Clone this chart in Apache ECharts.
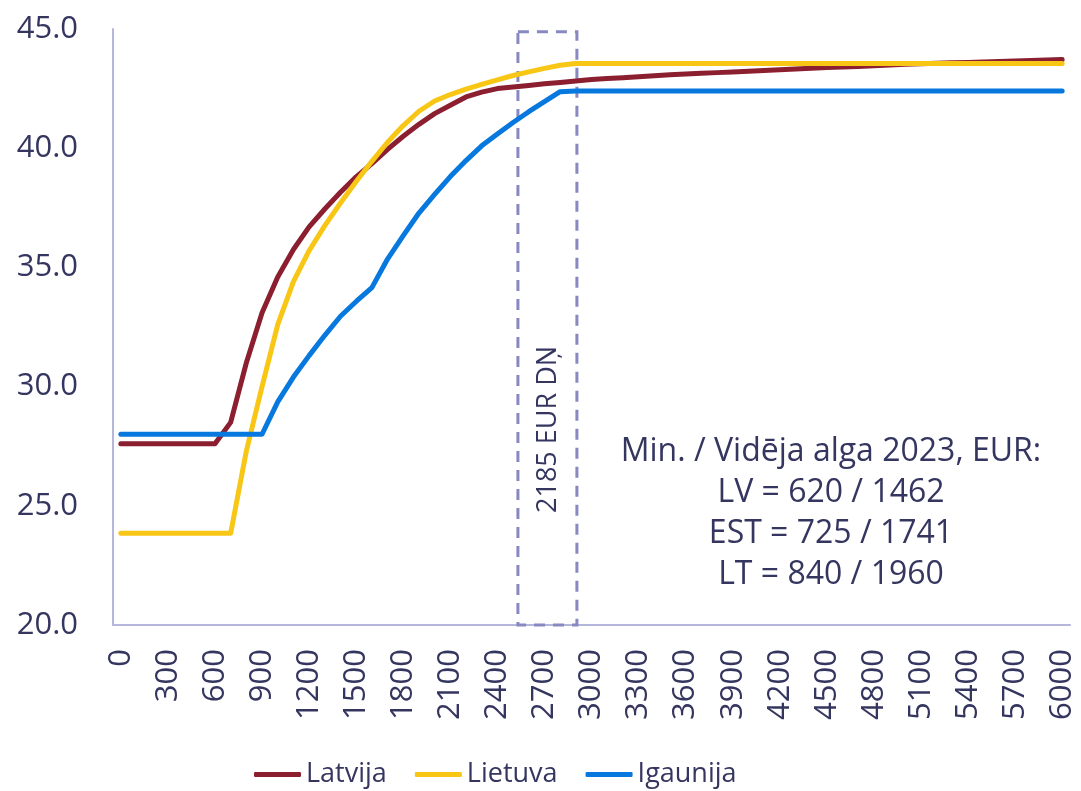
<!DOCTYPE html>
<html>
<head>
<meta charset="utf-8">
<script src="https://cdn.jsdelivr.net/npm/echarts@6/dist/echarts.min.js"></script>
<style>
  html, body { margin: 0; padding: 0; background: #ffffff; }
  #chart { width: 1081px; height: 791px; }
</style>
</head>
<body>
<div id="chart"></div>
<script>
// x kategorijas (EUR, solis 100)
const categories = [
  '0','100','200','300','400','500','600','700','800','900',
  '1000','1100','1200','1300','1400','1500','1600','1700','1800','1900',
  '2000','2100','2200','2300','2400','2500','2600','2700','2800','2900',
  '3000','3100','3200','3300','3400','3500','3600','3700','3800','3900',
  '4000','4100','4200','4300','4400','4500','4600','4700','4800','4900',
  '5000','5100','5200','5300','5400','5500','5600','5700','5800','5900',
  '6000'
];

const latvija = [
  27.6, 27.6, 27.6, 27.6, 27.6, 27.6, 27.6, 28.5, 31.0, 33.1,
  34.6, 35.75, 36.7, 37.45, 38.15, 38.8, 39.35, 39.95, 40.5, 41.0,
  41.45, 41.8, 42.15, 42.35, 42.5, 42.57, 42.63, 42.7, 42.76, 42.82,
  42.88, 42.92, 42.96, 43.0, 43.04, 43.08, 43.11, 43.14, 43.17, 43.2,
  43.23, 43.26, 43.29, 43.32, 43.35, 43.38, 43.41, 43.43, 43.46, 43.49,
  43.52, 43.54, 43.56, 43.58, 43.6, 43.62, 43.64, 43.66, 43.68, 43.7,
  43.72
];

const lietuva = [
  23.85, 23.85, 23.85, 23.85, 23.85, 23.85, 23.85, 23.85, 27.3, 30.0,
  32.6, 34.4, 35.7, 36.75, 37.7, 38.6, 39.45, 40.25, 40.95, 41.55,
  41.98, 42.25, 42.48, 42.68, 42.87, 43.05, 43.2, 43.35, 43.48, 43.55,
  43.55, 43.55, 43.55, 43.55, 43.55, 43.55, 43.55, 43.55, 43.55, 43.55,
  43.55, 43.55, 43.55, 43.55, 43.55, 43.55, 43.55, 43.55, 43.55, 43.55,
  43.55, 43.55, 43.55, 43.55, 43.55, 43.55, 43.55, 43.55, 43.55, 43.55,
  43.55
];

const igaunija = [
  28.0, 28.0, 28.0, 28.0, 28.0, 28.0, 28.0, 28.0, 28.0, 28.0,
  29.36, 30.4, 31.3, 32.15, 32.95, 33.57, 34.15, 35.35, 36.33, 37.28,
  38.06, 38.81, 39.48, 40.1, 40.6, 41.08, 41.53, 41.95, 42.37, 42.4,
  42.4, 42.4, 42.4, 42.4, 42.4, 42.4, 42.4, 42.4, 42.4, 42.4,
  42.4, 42.4, 42.4, 42.4, 42.4, 42.4, 42.4, 42.4, 42.4, 42.4,
  42.4, 42.4, 42.4, 42.4, 42.4, 42.4, 42.4, 42.4, 42.4, 42.4,
  42.4
];

const seriesNames = ['Latvija', 'Lietuva', 'Igaunija'];
const seriesColors = ['#8B1F30', '#F8C614', '#0778DE'];

// iezīmētais apgabals (kategoriju indeksos) un teksti
const boxFrom = 25.31;
const boxTo = 29.07;
const boxTop = 44.88;
const boxBottom = 19.8;
const boxLabel = '2185 EUR DŅ';
const noteLines = ['Min. / Vidēja alga 2023, EUR:', 'LV = 620 / 1462', 'EST = 725 / 1741', 'LT = 840 / 1960'];

const textColor = '#35365F';
const axisColor = '#B4B7DA';
const fontFamily = '"Open Sans", sans-serif';

const chart = echarts.init(document.getElementById('chart'), null, { renderer: 'canvas' });

function makeSeries(name, data, color) {
  return {
    name: name,
    type: 'line',
    data: data,
    symbol: 'none',
    smooth: false,
    lineStyle: { color: color, width: 5, cap: 'round', join: 'round' },
    itemStyle: { color: color },
    z: 3
  };
}

const option = {
  backgroundColor: '#ffffff',
  animation: false,
  textStyle: { fontFamily: fontFamily },
  grid: { left: 113, right: 11, top: 29, bottom: 166, containLabel: false },
  legend: {
    data: seriesNames,
    left: 249,
    top: 756,
    icon: 'roundRect',
    itemWidth: 47,
    itemHeight: 5,
    itemGap: 28,
    textStyle: { color: textColor, fontSize: 27, fontFamily: fontFamily }
  },
  xAxis: [
    {
      type: 'category',
      data: categories,
      boundaryGap: true,
      axisLine: { show: true, onZero: false, lineStyle: { color: axisColor, width: 2 } },
      axisTick: { show: false },
      splitLine: { show: false },
      axisLabel: {
        interval: 2,
        rotate: 90,
        margin: 24,
        color: textColor,
        fontSize: 31,
        fontFamily: fontFamily
      }
    },
    {
      // neredzama palīgass apgabalam, sakrīt ar kategoriju centriem
      type: 'value',
      show: false,
      min: -0.5,
      max: categories.length - 0.5
    }
  ],
  yAxis: {
    type: 'value',
    min: 20,
    max: 45,
    interval: 5,
    axisLine: { show: true, onZero: false, lineStyle: { color: axisColor, width: 2 } },
    axisTick: { show: false },
    splitLine: { show: false },
    axisLabel: {
      margin: 35,
      color: textColor,
      fontSize: 31,
      fontFamily: fontFamily,
      formatter: function (v) { return v.toFixed(1); }
    }
  },
  graphic: [
    {
      type: 'text',
      x: 548,
      y: 513,
      rotation: Math.PI / 2,
      style: {
        text: boxLabel,
        fill: textColor,
        font: '27px ' + fontFamily,
        textAlign: 'left',
        textVerticalAlign: 'middle'
      }
    },
    {
      type: 'text',
      x: 831,
      y: 431,
      style: {
        text: noteLines.join('\n'),
        fill: textColor,
        font: '32px ' + fontFamily,
        lineHeight: 41,
        textAlign: 'center',
        textVerticalAlign: 'top'
      }
    }
  ],
  series: [
    makeSeries(seriesNames[0], latvija, seriesColors[0]),
    makeSeries(seriesNames[1], lietuva, seriesColors[1]),
    makeSeries(seriesNames[2], igaunija, seriesColors[2]),
    {
      name: 'apgabals',
      type: 'line',
      xAxisIndex: 1,
      data: [],
      silent: true,
      markArea: {
        silent: true,
        itemStyle: {
          color: 'rgba(0,0,0,0)',
          borderColor: '#8789C0',
          borderWidth: 3,
          borderType: [11, 8]
        },
        data: [[{ xAxis: boxFrom, yAxis: boxTop }, { xAxis: boxTo, yAxis: boxBottom }]]
      }
    }
  ]
};

chart.setOption(option);
</script>
</body>
</html>
